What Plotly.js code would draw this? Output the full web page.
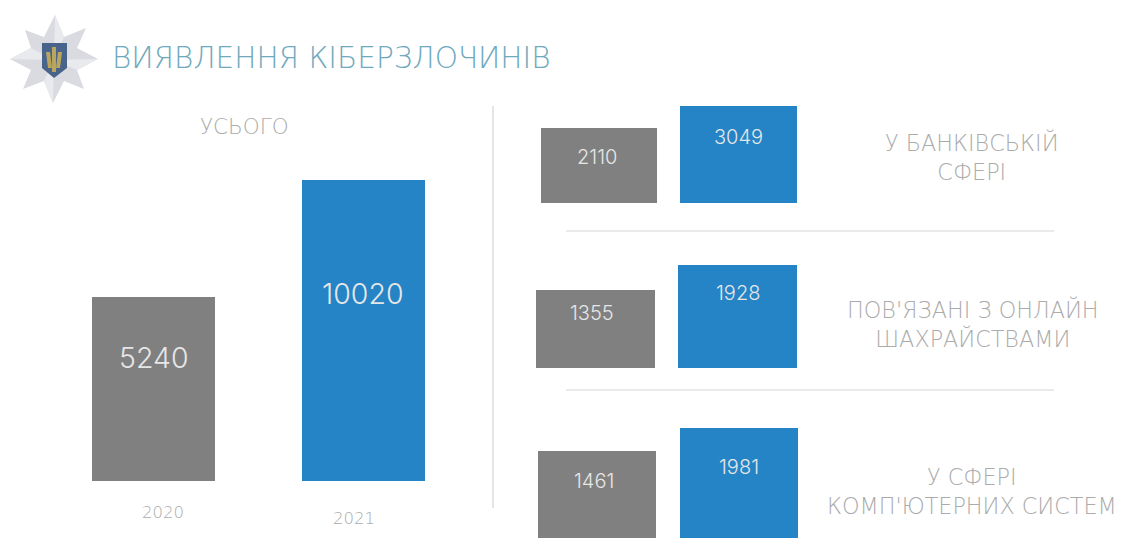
<!DOCTYPE html>
<html><head><meta charset="utf-8">
<script src="https://cdn.plot.ly/plotly-3.0.1.min.js"></script>
<style>html,body{margin:0;padding:0;background:#fff;overflow:hidden}#c{width:1121px;height:553px}</style>
</head><body><div id="c"></div>
<script>
var years = ['2020', '2021'];
var categories = ['УСЬОГО', 'У БАНКІВСЬКІЙ<br>СФЕРІ', "ПОВ'ЯЗАНІ З ОНЛАЙН<br>ШАХРАЙСТВАМИ", "У СФЕРІ<br>КОМП'ЮТЕРНИХ СИСТЕМ"];
var values2020 = [5240, 2110, 1355, 1461];
var values2021 = [10020, 3049, 1928, 1981];
var titleText = 'ВИЯВЛЕННЯ КІБЕРЗЛОЧИНІВ';

var W = 1121, H = 553, FONT = 'Inter, "Open Sans", sans-serif', WIDE = '"DejaVu Sans", sans-serif';
var GREY = '#808080', BLUE = '#2484c6', TXT = '#ababab';
function fx(x){return x / W;}
function fy(y){return 1 - y / H;}

// the reference does not draw bars to a common scale: each bar gets its own axis box [x0,x1,y0,y1,labelX,labelY,labelSize]
var boxes2020 = [[92,215,297,481,153,357,28.5],[541,657,128,203,597,157,20],[536,655,290,368,592,313,20],[538,656,451,538,594,481,20]];
var boxes2021 = [[302,425,180,481,363,294,28.5],[680,797,106,203,738,137,20],[678,797,265,368,738,293,20],[680,798,428,538,739,467,20]];

var traces = [], annotations = [], layout = {
  width: W, height: H, margin: {l:0,r:0,t:0,b:0}, paper_bgcolor:'#fff', plot_bgcolor:'rgba(0,0,0,0)',
  showlegend:false, bargap:0, font:{family:FONT}
};
var n = 0;
function addBar(year, value, color, b){
  n++;
  var sx = n === 1 ? '' : String(n);
  traces.push({type:'bar', x:[year], y:[value], xaxis:'x'+sx, yaxis:'y'+sx,
    marker:{color:color, line:{width:0}}, width:[1], hoverinfo:'x+y', name:year});
  layout['xaxis'+sx] = {domain:[fx(b[0]),fx(b[1])], anchor:'y'+sx, type:'category', visible:false, fixedrange:true};
  layout['yaxis'+sx] = {domain:[fy(b[3]),fy(b[2])], anchor:'x'+sx, range:[0,value], visible:false, fixedrange:true};
  annotations.push({text:String(value), xref:'paper', yref:'paper', x:fx(b[4]), y:fy(b[5]),
    xanchor:'center', yanchor:'middle', showarrow:false, font:{family:FONT, size:b[6], color:'#e6e6e6', weight:300}});
}
for (var i = 0; i < categories.length; i++){
  addBar(years[0], values2020[i], GREY, boxes2020[i]);
  addBar(years[1], values2021[i], BLUE, boxes2021[i]);
}
function label(t,x,y,size,color,anchor){
  annotations.push({text:t, xref:'paper', yref:'paper', x:fx(x), y:fy(y), xanchor:anchor||'center', yanchor:'middle',
    showarrow:false, align:'center', font:{family:WIDE,size:size,color:color,weight:200}});
}
label(titleText,110,58,29.5,'#6fa9bd','left');
label(categories[0],244,126,21.5,TXT);
label(categories[1],972,157,22.3,TXT);
label(categories[2],973,324,22.3,TXT);
label(categories[3],972,491,22.3,TXT);
label(years[0],163,512,16.5,TXT);
label(years[1],354,518,16.5,TXT);
layout.annotations = annotations;

function line(x0,y0,x1,y1,c){return {type:'line',xref:'paper',yref:'paper',x0:fx(x0),x1:fx(x1),y0:fy(y0),y1:fy(y1),line:{color:c,width:1.2},layer:'below'};}
function poly(pts,fill){
  var d = pts.map(function(p,i){return (i?'L':'M')+fx(p[0])+','+fy(p[1]);}).join(' ')+' Z';
  return {type:'path',xref:'paper',yref:'paper',path:d,fillcolor:fill,line:{width:0},layer:'above'};
}
// badge
var star = [[55,15],[64,37],[86,28],[77,48],[98,59],[77,70],[84,89],[64,81],[53,103],[44,81],[23,89],[31,70],[10,59],[31,48],[25,30],[44,37]];
var shapes = [line(493,106,493,508,'#d4d4d4'), line(566,231,1054,231,'#d6d6d6'), line(566,390,1054,390,'#d6d6d6')];
shapes.push(poly(star,'#d9dbe0'));
var c = [54,60];
shapes.push(poly([star[0],star[1],c],'#e9eaee'), poly([star[4],star[5],c],'#e9eaee'), poly([star[8],star[9],c],'#e9eaee'), poly([star[12],star[13],c],'#e9eaee'));
shapes.push(poly([[42,43],[67,43],[67,68],[54,78],[42,68]],'#48648a'));
shapes.push(poly([[52,47],[56,47],[56,72],[52,72]],'#b9a55e'), poly([[46,52],[50,52],[52,68],[48,68]],'#b9a55e'), poly([[62,52],[58,52],[56,68],[60,68]],'#b9a55e'));
layout.shapes = shapes;
Plotly.newPlot('c', traces, layout, {displayModeBar:false});
</script></body></html>
